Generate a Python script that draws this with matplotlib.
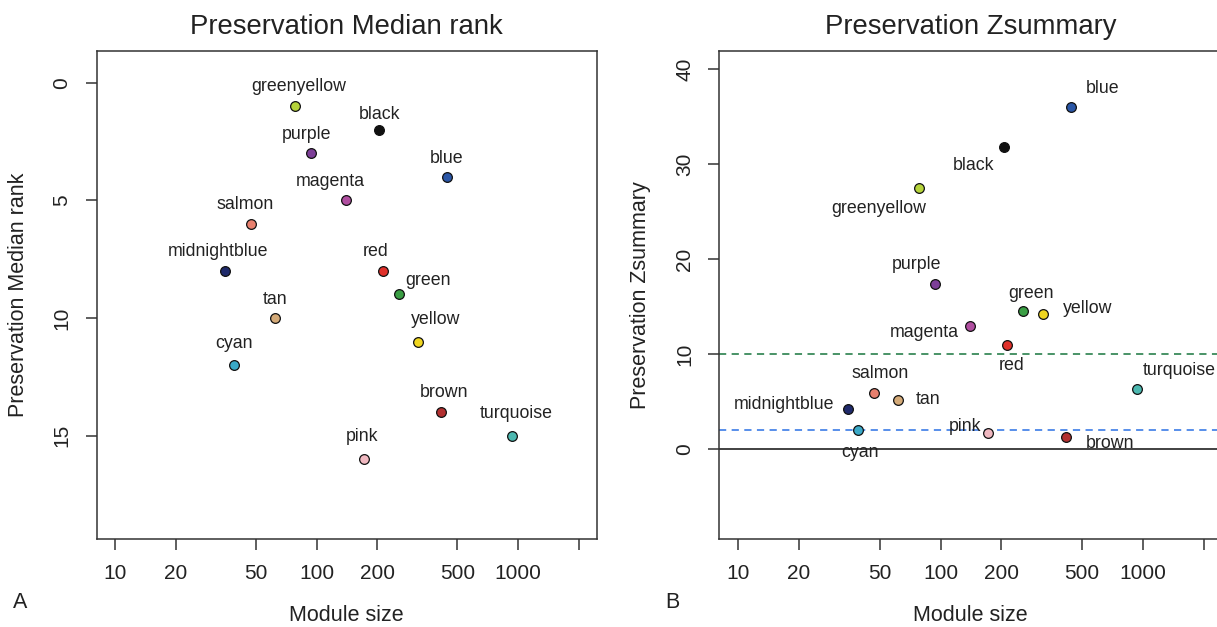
import numpy as np
import matplotlib.pyplot as plt

plt.rcParams['font.family'] = ['Liberation Sans', 'DejaVu Sans']

# datos de los modulos
modulos = ["greenyellow", "black", "purple", "blue", "magenta", "salmon",
           "midnightblue", "red", "green", "tan", "yellow", "cyan",
           "brown", "turquoise", "pink"]
tam_modulo = [78, 205, 94, 443, 140, 47, 35, 213, 256, 62, 320, 39, 416, 935, 172]
median_rank = [1, 2, 3, 4, 5, 6, 8, 8, 9, 10, 11, 12, 14, 15, 16]
zsummary = [27.5, 31.8, 17.4, 36.0, 12.9, 5.9, 4.2, 11.0, 14.5, 5.2, 14.2, 2.0, 1.3, 6.3, 1.7]

colores = {"greenyellow": "#b5d33a", "black": "#111111", "purple": "#7d3f98",
           "blue": "#2a56a6", "magenta": "#b04ea0", "salmon": "#e8806e",
           "midnightblue": "#1f2a6b", "red": "#e0302a", "green": "#3a9e44",
           "tan": "#d4aa78", "yellow": "#f0d620", "cyan": "#3aa9c7",
           "brown": "#b33030", "turquoise": "#4cb8b0", "pink": "#f0b8c0"}

x_ticks = [10, 20, 50, 100, 200, 500, 1000, 2000]
x_ticklabels = ["10", "20", "50", "100", "200", "500", "1000", ""]

# desplazamiento de las etiquetas (pixeles, dy hacia abajo)
off_rank = {"greenyellow": (4, -20), "black": (0, -15), "purple": (-5, -19),
            "blue": (0, -18), "magenta": (-16, -19), "salmon": (-6, -19),
            "midnightblue": (-7, -19), "red": (-7, -19), "green": (29, -14),
            "tan": (0, -19), "yellow": (17, -22), "cyan": (0, -22),
            "brown": (3, -20), "turquoise": (4, -22), "pink": (-2, -23)}
off_z = {"blue": (31, -19), "black": (-30, 19), "greenyellow": (-40, 21),
         "purple": (-19, -19), "green": (8, -18), "yellow": (45, -6),
         "magenta": (-46, 6), "red": (5, 21), "turquoise": (42, -19),
         "salmon": (6, -19), "tan": (30, 0), "midnightblue": (-64, -5),
         "cyan": (2, 22), "pink": (-23, -6), "brown": (44, 7)}

txt = "#222222"
borde = "#333333"

fig = plt.figure(figsize=(12.17, 6.27), dpi=100)
ax1 = fig.add_axes([0.0793, 0.1404, 0.4113, 0.7787])
ax2 = fig.add_axes([0.5908, 0.1404, 0.4138, 0.7787])


def panel(ax, y, offs, titulo, ylab):
    for nom, xs, ys in zip(modulos, tam_modulo, y):
        ax.plot(xs, ys, "o", ms=7, mfc=colores[nom], mec="#111111", mew=0.9, zorder=3)
        dx, dy = offs[nom]
        ax.annotate(nom, (xs, ys), xytext=(dx, -dy), textcoords="offset pixels",
                    ha="center", va="center", fontsize=12.8, color=txt)
    ax.set_xscale("log")
    ax.set_xlim(10 ** 0.906, 10 ** 3.393)
    ax.set_xticks(x_ticks)
    ax.set_xticklabels(x_ticklabels)
    ax.minorticks_off()
    ax.tick_params(length=8, width=1.1, color=borde, labelsize=15,
                   labelcolor=txt, pad=10)
    plt.setp(ax.get_yticklabels(), rotation=90, va="center")
    for s in ax.spines.values():
        s.set_color(borde)
        s.set_linewidth(1.1)
    ax.set_title(titulo, fontsize=19.8, color=txt, pad=12)
    ax.set_xlabel("Module size", fontsize=15.5, color=txt, va="center")
    ax.set_ylabel(ylab, fontsize=15.5, color=txt, va="center", ha="center")
    ax.xaxis.set_label_coords(0.5, -0.156)
    ax.yaxis.set_label_coords(-0.155, 0.5)


ax1.set_ylim(19.39, -1.36)
ax1.set_yticks([0, 5, 10, 15])
panel(ax1, median_rank, off_rank, "Preservation Median rank", "Preservation Median rank")

ax2.set_ylim(-9.47, 41.93)
ax2.set_yticks([0, 10, 20, 30, 40])
ax2.axhline(0, color="#333333", lw=1.3, zorder=1)
ax2.axhline(2, color="#4a86e8", lw=1.3, ls=(0, (4, 3)), zorder=1)
ax2.axhline(10, color="#3a8a5a", lw=1.3, ls=(0, (4, 3)), zorder=1)
panel(ax2, zsummary, off_z, "Preservation Zsummary", "Preservation Zsummary")

fig.text(20 / 1217, 1 - 603 / 627, "A", fontsize=15.5, color=txt, ha="center", va="center")
fig.text(672 / 1217, 1 - 603 / 627, "B", fontsize=15.5, color=txt, ha="center", va="center")

plt.savefig("out.png", dpi=100)
